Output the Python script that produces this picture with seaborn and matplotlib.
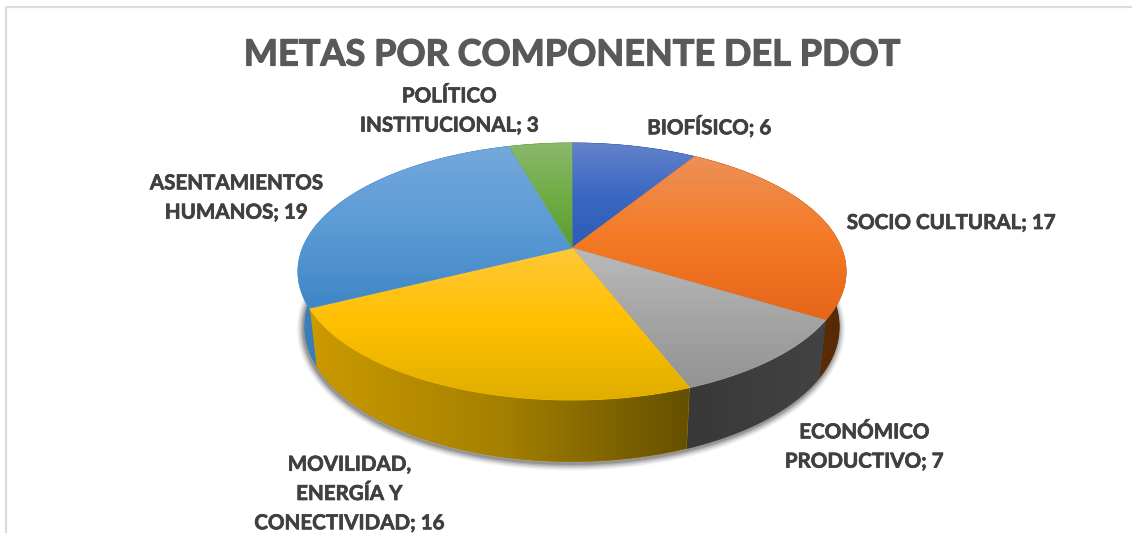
#! /usr/bin/env python
import numpy as np
import matplotlib
matplotlib.use('Agg')
import matplotlib.pyplot as plt
import matplotlib.patheffects as pe
from matplotlib.patches import Polygon
import seaborn as sns

# datos del grafico
titulo = "METAS POR COMPONENTE DEL PDOT"
componentes = ["BIOFÍSICO", "SOCIO CULTURAL", "ECONÓMICO\nPRODUCTIVO",
               "MOVILIDAD,\nENERGÍA Y\nCONECTIVIDAD", "ASENTAMIENTOS\nHUMANOS",
               "POLÍTICO\nINSTITUCIONAL"]
metas = [6, 17, 7, 16, 19, 3]

# colores: claro, base, oscuro de la cara superior
caras = [["#6482ca", "#3a68c2", "#2c5cb6"],
         ["#ee9058", "#f47a25", "#e5651a"],
         ["#bababa", "#a5a5a5", "#939393"],
         ["#ffc838", "#ffc000", "#e0ae00"],
         ["#75a8dc", "#5b9bd5", "#3f86c6"],
         ["#8ab86c", "#70ad47", "#5c9c33"]]
# colores del lateral, de izquierda a derecha
lados = [["#2a4a86", "#2a4a86"],
         ["#6b3409", "#562a07"],
         ["#383838", "#434343"],
         ["#cc9a00", "#a58000", "#655000"],
         ["#3b7dba", "#3b7dba"],
         ["#4d7a30", "#4d7a30"]]
pos_etiquetas = [(709, 127), (951, 223), (864, 447), (349, 494), (236, 198), (449, 111)]

# geometria del pastel en pixeles
cx, cy = 572, 248
k = 0.183
A, B = 124.2, 269.4
orden = [5]


def proyecta(ang, caida=False):
    u, v = np.sin(ang), np.cos(ang)
    d = 1 + k * v
    x, y = B * u / d, -A * v / d
    if caida:
        x, y = x * 0.975, y * 1.05 + 54
    return cx + x, cy + y


def degradado(ax, poly, colores, vertical=True):
    orden[0] += 1
    medio = colores[len(colores) // 2]
    base = Polygon(poly, closed=True, fc=medio, ec=medio, lw=0.6, zorder=orden[0])
    ax.add_patch(base)
    cmap = sns.blend_palette(colores, n_colors=128, as_cmap=True)
    g = np.linspace(0, 1, 256)
    g = g[:, None] if vertical else g[None, :]
    x0, y0 = poly.min(axis=0)
    x1, y1 = poly.max(axis=0)
    im = ax.imshow(g, cmap=cmap, extent=(x0, x1, y1, y0), aspect='auto', zorder=orden[0] + 0.5,
                   interpolation='bilinear', origin='upper', vmin=0, vmax=1)
    im.set_clip_path(base)


sns.set_theme(style='white')
plt.rcParams['font.family'] = ['Lato', 'DejaVu Sans']

fig = plt.figure(figsize=(11.32, 5.33), dpi=100, facecolor='white')
ax = fig.add_axes([0, 0, 1, 1])
ax.axis('off')

# marco del grafico
ax.plot([6, 6, 1132], [533, 7, 7], color='#dcdcdc', lw=1.6, zorder=1)

limites = np.cumsum([0] + metas) / sum(metas) * 2 * np.pi

# sombra bajo el pastel
t = np.linspace(0, 2 * np.pi, 400)
xs, ys = proyecta(t, caida=True)
for lw, al in zip([10, 8, 6, 4, 2], [0.05, 0.08, 0.11, 0.15, 0.2]):
    ax.plot(xs - 1, ys + 2, color='#222222', lw=lw, alpha=al, zorder=2)

# laterales, luego caras
for i in range(len(metas)):
    t = np.linspace(limites[i], limites[i + 1], 120)
    xa, ya = proyecta(t)
    xb, yb = proyecta(t, caida=True)
    poly = np.column_stack([np.r_[xa, xb[::-1]], np.r_[ya, yb[::-1]]])
    degradado(ax, poly, lados[i], vertical=False)

for i in range(len(metas)):
    t = np.linspace(limites[i], limites[i + 1], 120)
    xa, ya = proyecta(t)
    poly = np.column_stack([np.r_[cx, xa], np.r_[cy, ya]])
    degradado(ax, poly, caras[i])

ax.set_xlim(0, 1132)
ax.set_ylim(533, 0)

ax.text(572, 55, titulo, ha='center', va='center', fontsize=26, fontweight='bold', color='#595959',
        zorder=50, path_effects=[pe.withStroke(linewidth=0.9, foreground='#595959')])
for nombre, n, (x, y) in zip(componentes, metas, pos_etiquetas):
    ax.text(x, y, f"{nombre}; {n}", ha='center', va='center', fontsize=14.8, zorder=50,
            fontweight='bold', color='#404040', linespacing=1.58,
            path_effects=[pe.withStroke(linewidth=0.5, foreground='#404040')])

fig.savefig('out.png', dpi=100)
